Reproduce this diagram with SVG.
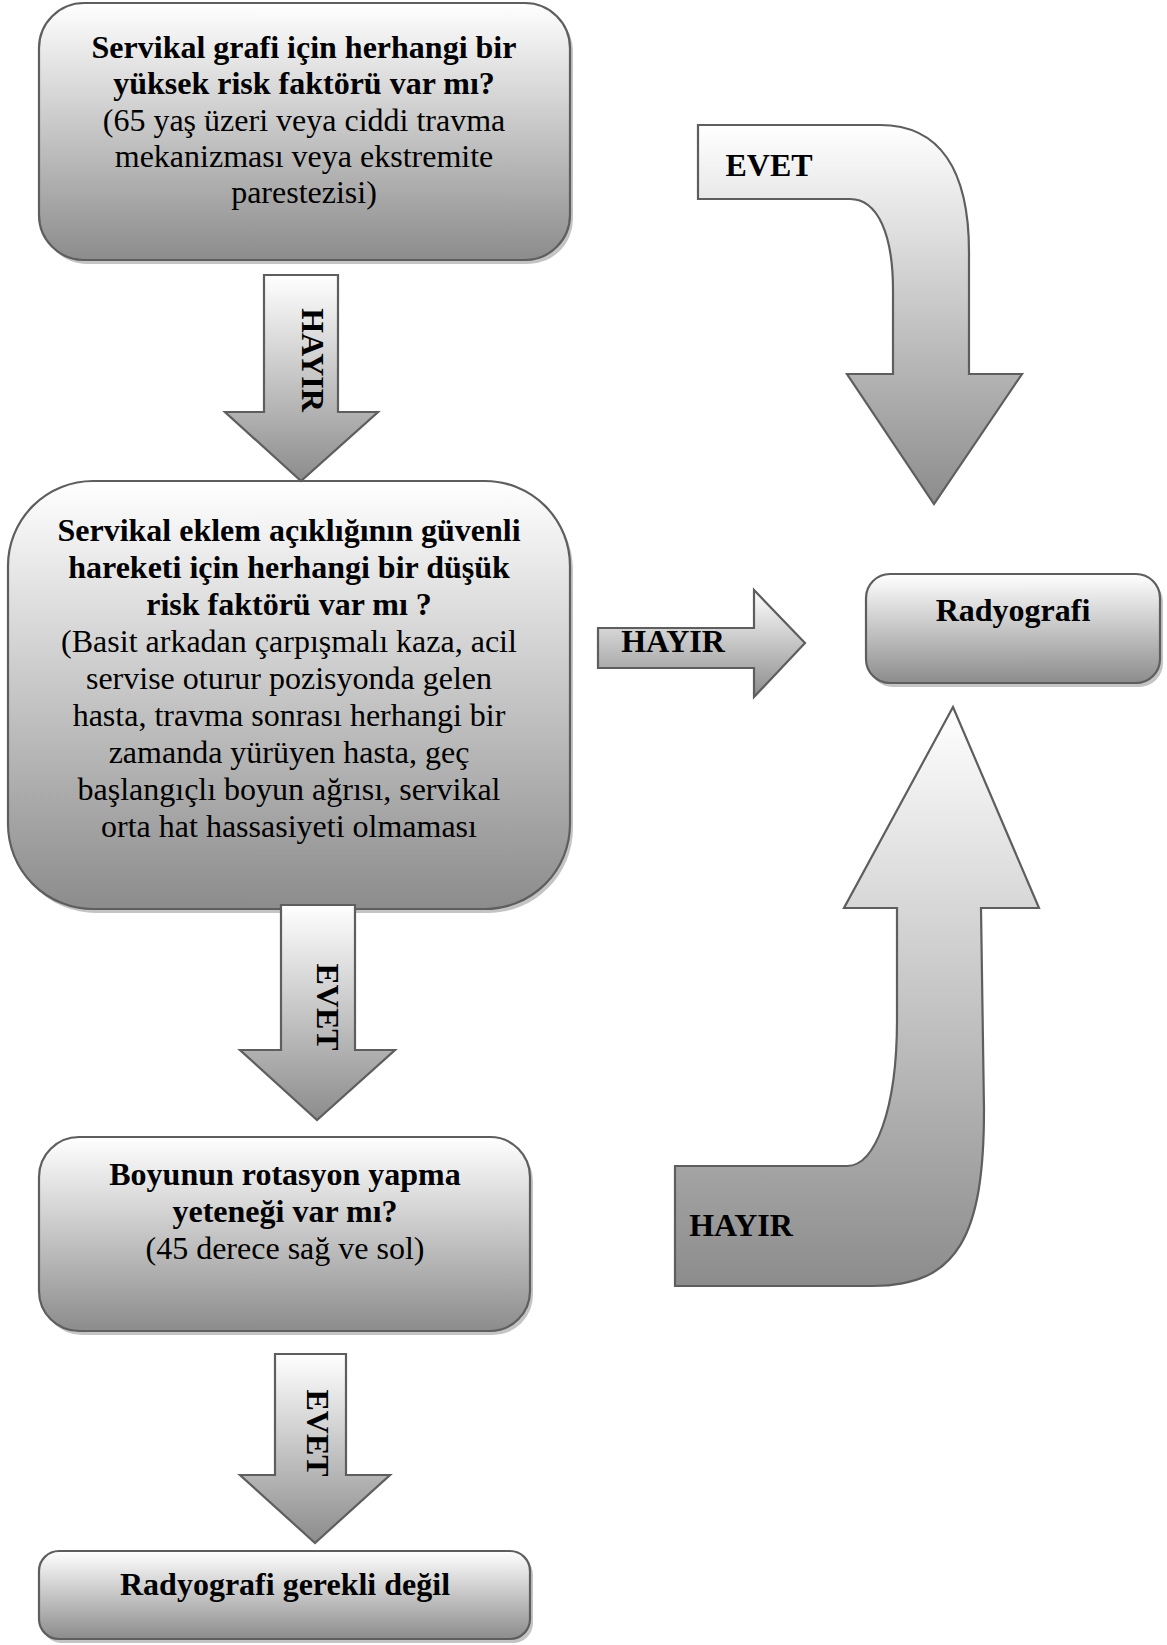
<svg xmlns="http://www.w3.org/2000/svg" width="1167" height="1645" viewBox="0 0 1167 1645">
<defs>
<linearGradient id="g" x1="0" y1="0" x2="0" y2="1">
<stop offset="0" stop-color="#ffffff"/>
<stop offset="1" stop-color="#8c8c8c"/>
</linearGradient>
<style>
.box{fill:url(#g);stroke:#5e5e5e;stroke-width:2.2}
.sh{fill:#c4c4c4}
.arr{fill:url(#g);stroke:#5e5e5e;stroke-width:2.2;stroke-linejoin:miter}
text{font-family:"Liberation Serif","Times New Roman",serif;font-size:32px;fill:#000;text-anchor:middle}
.b{font-weight:bold}
</style>
</defs>
<rect width="1167" height="1645" fill="#fff"/>

<g id="n1">
<rect class="sh" x="42" y="7" width="531" height="257" rx="45"/>
<rect class="box" x="39" y="3" width="531" height="257" rx="45"/>
<text class="b" x="304" y="58">Servikal grafi için herhangi bir</text>
<text class="b" x="304" y="94">yüksek risk faktörü var mı?</text>
<text x="304" y="131">(65 yaş üzeri veya ciddi travma</text>
<text x="304" y="167">mekanizması veya ekstremite</text>
<text x="304" y="203">parestezisi)</text>
</g>

<g id="n2">
<rect class="sh" x="11" y="485" width="562" height="428" rx="85"/>
<rect class="box" x="8" y="481" width="562" height="428" rx="85"/>
<text class="b" x="289" y="541">Servikal eklem açıklığının güvenli</text>
<text class="b" x="289" y="578">hareketi için herhangi bir düşük</text>
<text class="b" x="289" y="615">risk faktörü var mı ?</text>
<text x="289" y="652">(Basit arkadan çarpışmalı kaza, acil</text>
<text x="289" y="689">servise oturur pozisyonda gelen</text>
<text x="289" y="726">hasta, travma sonrası herhangi bir</text>
<text x="289" y="763">zamanda yürüyen hasta, geç</text>
<text x="289" y="800">başlangıçlı boyun ağrısı, servikal</text>
<text x="289" y="837">orta hat hassasiyeti olmaması</text>
</g>

<g id="n3">
<rect class="sh" x="42" y="1141" width="491" height="194" rx="40"/>
<rect class="box" x="39" y="1137" width="491" height="194" rx="40"/>
<text class="b" x="285" y="1185">Boyunun rotasyon yapma</text>
<text class="b" x="285" y="1222">yeteneği var mı?</text>
<text x="285" y="1259">(45 derece sağ ve sol)</text>
</g>

<g id="n4">
<rect class="sh" x="42" y="1555" width="491" height="88" rx="20"/>
<rect class="box" x="39" y="1551" width="491" height="88" rx="20"/>
<text class="b" x="285" y="1595">Radyografi gerekli değil</text>
</g>

<g id="n5">
<rect class="sh" x="869" y="578" width="294" height="109" rx="24"/>
<rect class="box" x="866" y="574" width="294" height="109" rx="24"/>
<text class="b" x="1013" y="621">Radyografi</text>
</g>

<g id="connectors">
<g id="a1">
<path class="arr" d="M264,275 L338,275 L338,412 L378,412 L301,481 L225,412 L264,412 Z"/>
<text class="b" transform="translate(312,360) rotate(90)" dy="10">HAYIR</text>
</g>
<g id="a2">
<path class="arr" d="M281,905 L355,905 L355,1050 L395,1050 L317,1120 L240,1050 L281,1050 Z"/>
<text class="b" transform="translate(327,1007) rotate(90)" dy="10">EVET</text>
</g>
<g id="a3">
<path class="arr" d="M275,1354 L346,1354 L346,1475 L390,1475 L315,1543 L240,1475 L275,1475 Z"/>
<text class="b" transform="translate(317,1433) rotate(90)" dy="10">EVET</text>
</g>
<g id="a4">
<path class="arr" d="M598,628 L754,628 L754,590 L805,643 L754,697 L754,668 L598,668 Z"/>
<text class="b" x="673" y="652">HAYIR</text>
</g>
<g id="a5">
<path class="arr" d="M698,125 L880,125 C940,125 969,170 969,252 L969,374 L1022,374 L934,504 L847,374 L893,374 L893,290 C893,235 878,199 850,199 L698,199 Z"/>
<text class="b" x="769" y="176">EVET</text>
</g>
<g id="a6">
<path class="arr" d="M675,1166 L847,1166 C875,1166 897,1110 897,1020 L897,908 L844,908 L953,707 L1039,908 L981,908 L984,1110 C984,1235 958,1286 873,1286 L675,1286 Z"/>
<text class="b" x="741" y="1236">HAYIR</text>
</g>
</g>
</svg>
